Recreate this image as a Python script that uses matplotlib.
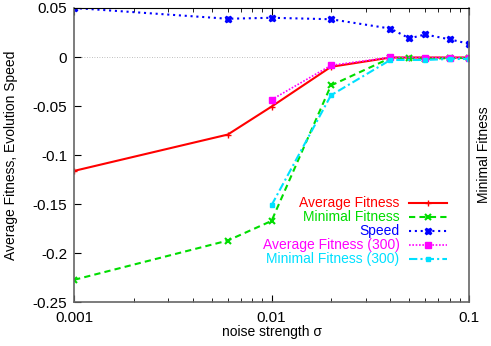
import matplotlib
matplotlib.use("Agg")
import matplotlib.pyplot as plt
from matplotlib.ticker import NullFormatter

plt.rcParams['font.family'] = ['Liberation Sans', 'DejaVu Sans']

# noise strength values
sigma = [0.001, 0.006, 0.01, 0.02, 0.04, 0.05, 0.06, 0.08, 0.1]
avg_fit = [-0.116, -0.079, -0.0505, -0.010, -0.0005, -0.0005, -0.0005, -0.0005, -0.0005]
min_fit = [-0.227, -0.187, -0.167, -0.029, -0.001, -0.001, -0.002, -0.001, -0.001]
speed = [0.050, 0.039, 0.040, 0.0385, 0.029, 0.019, 0.023, 0.018, 0.0135]

sigma300 = [0.01, 0.02, 0.04, 0.06, 0.08, 0.1]
avg_fit300 = [-0.0435, -0.0085, -0.0003, -0.0005, -0.0005, -0.0005]
min_fit300 = [-0.151, -0.039, -0.003, -0.003, -0.002, -0.002]

fig = plt.figure(figsize=(4.91, 3.46), dpi=100)
ax = fig.add_axes([0.151, 0.126, 0.804, 0.851])

ax.axhline(0, color='#aaaaaa', lw=0.6, ls=(0, (1, 2)), zorder=0)

ax.plot(sigma, avg_fit, color='#ff0000', lw=1.5, marker='+', ms=4,
        label='Average Fitness')
ax.plot(sigma, min_fit, color='#00dd00', lw=1.5, ls=(0, (3, 2)), marker='x', ms=4,
        mew=1.5, label='Minimal Fitness')
ax.plot(sigma, speed, color='#0000ff', lw=1.5, ls=(0, (1, 1.8)), marker='X', ms=5,
        label='Speed')
ax.plot(sigma300, avg_fit300, color='#ff00ff', lw=1.2, ls=(0, (1, 1)), marker='s', ms=5,
        label='Average Fitness (300)')
ax.plot(sigma300, min_fit300, color='#00e0ff', lw=1.5, ls=(0, (4, 1.5, 1, 1.5)),
        marker='s', ms=3.5, label='Minimal Fitness (300)')

ax.set_xscale('log')
ax.set_xlim(0.001, 0.1)
ax.set_ylim(-0.25, 0.05)
ax.set_xticks([0.001, 0.01, 0.1])
ax.set_xticklabels(['0.001', '0.01', '0.1'])
ax.xaxis.set_minor_formatter(NullFormatter())
ax.set_yticks([0.05, 0, -0.05, -0.1, -0.15, -0.2, -0.25])
ax.set_yticklabels(['0.05', '0', '-0.05', '-0.1', '-0.15', '-0.2', '-0.25'])

ax.tick_params(which='both', direction='in', top=True, right=True, labelsize=11)
ax.tick_params(which='major', length=5, width=0.8)
ax.tick_params(which='minor', length=3, width=0.6)
ax.tick_params(axis='x', pad=6)
ax.tick_params(axis='y', pad=5)

for side in ['left', 'bottom', 'right']:
    ax.spines[side].set_color('#666666')
    ax.spines[side].set_linewidth(1.2)
ax.spines['top'].set_color('black')

ax.set_xlabel('noise strength σ', fontsize=10, labelpad=0.5)
ax.set_ylabel('Average Fitness, Evolution Speed', fontsize=10, labelpad=10.5)

ax2 = ax.twinx()
ax2.set_ylim(-0.25, 0.05)
ax2.set_yticks([])
ax2.set_ylabel('Minimal Fitness', fontsize=10, labelpad=6)
for s in ax2.spines.values():
    s.set_visible(False)

leg = ax.legend(loc='lower right', bbox_to_anchor=(0.944, 0.122), frameon=False,
                markerfirst=False, fontsize=10, labelcolor='linecolor',
                handlelength=2.7, labelspacing=0.0, handletextpad=0.7,
                borderaxespad=0, borderpad=0)

fig.savefig('out.png', dpi=100)
